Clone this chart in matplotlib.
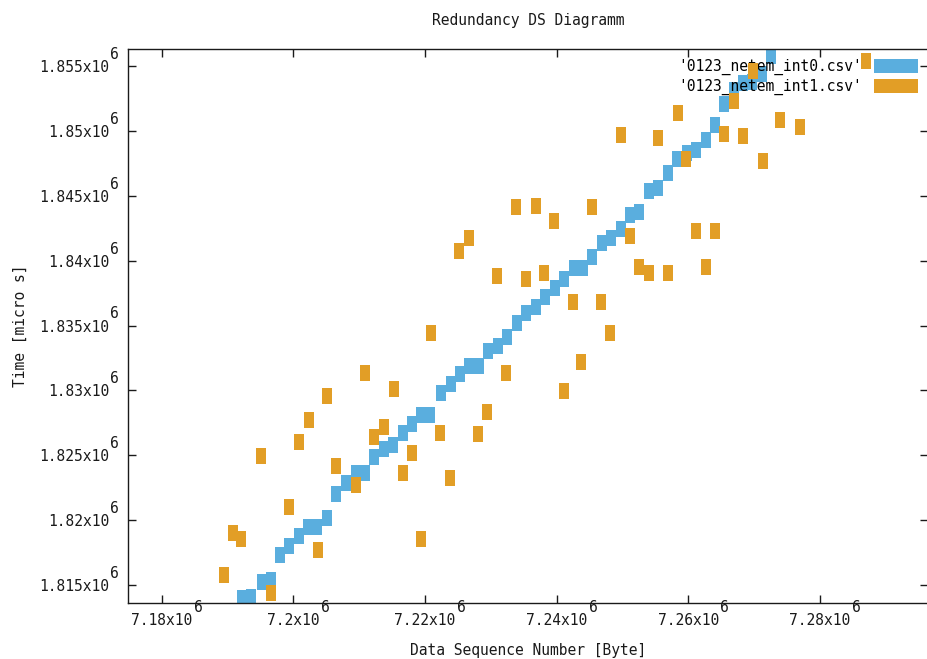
import matplotlib
matplotlib.use("Agg")
import matplotlib.pyplot as plt
from matplotlib.patches import Patch
from matplotlib.ticker import FixedLocator, FixedFormatter

plt.rcParams['font.family'] = ['DejaVu Sans Mono']

# ---- data -------------------------------------------------------------
seq_int0 = [7192152, 7193519, 7195190, 7196557, 7197970, 7199337, 7200856, 7202269,
            7203545, 7205064, 7206476, 7207950, 7209469, 7210881, 7212294, 7213767,
            7215180, 7216608, 7218066, 7219464, 7220831, 7222426, 7223899, 7225312,
            7226679, 7228152, 7229611, 7231038, 7232497, 7233925, 7235383, 7236811,
            7238223, 7239697, 7241109, 7242583, 7243995, 7245408, 7246836, 7248249,
            7249722, 7251135, 7252547, 7254066, 7255434, 7256861, 7258320, 7259748,
            7261160, 7262634, 7264046, 7265459, 7266887, 7268315, 7269743, 7271186,
            7272613]
time_int0 = [1813976, 1814099, 1815193, 1815363, 1817274, 1817968, 1818754, 1819447,
             1819447, 1820149, 1821991, 1822839, 1823609, 1823609, 1824889, 1825459,
             1825790, 1826738, 1827409, 1828103, 1828103, 1829821, 1830492, 1831239,
             1831879, 1831879, 1833058, 1833420, 1834137, 1835170, 1835925, 1836403,
             1837220, 1837867, 1838561, 1839409, 1839409, 1840303, 1841382, 1841721,
             1842399, 1843517, 1843771, 1845389, 1845613, 1846777, 1847809, 1848272,
             1848503, 1849297, 1850453, 1852071, 1853112, 1853690, 1853767, 1854345,
             1855771]

seq_int1 = [7189418, 7190800, 7192122, 7195084, 7196572, 7199367, 7200856, 7202329,
            7203712, 7205064, 7206476, 7209469, 7210927, 7212294, 7213767, 7215241,
            7216608, 7218066, 7219388, 7220907, 7222350, 7223793, 7225236, 7226679,
            7228046, 7229459, 7231008, 7232375, 7233818, 7235307, 7236811, 7238117,
            7239636, 7241109, 7242431, 7243692, 7245408, 7246775, 7248173, 7249722,
            7251089, 7252547, 7254021, 7255342, 7256861, 7258380, 7259687, 7261160,
            7262649, 7264046, 7265459, 7266932, 7268254, 7269818, 7271292, 7273996,
            7276958, 7286983]
time_int1 = [1815787, 1818985, 1818507, 1824966, 1814384, 1820974, 1825998, 1827717,
             1817698, 1829590, 1824172, 1822708, 1831340, 1826384, 1827201, 1830083,
             1823609, 1825212, 1818523, 1834422, 1826738, 1823270, 1840765, 1841721,
             1826615, 1828357, 1838815, 1831363, 1844156, 1838584, 1844233, 1839070,
             1843077, 1829952, 1836842, 1832149, 1844156, 1836842, 1834422, 1849682,
             1841921, 1839532, 1839047, 1849428, 1839070, 1851401, 1847832, 1842283,
             1839532, 1842283, 1849782, 1852303, 1849567, 1854615, 1847701, 1850838,
             1850322, 1855408]

series_labels = ["'0123_netem_int0.csv'", "'0123_netem_int1.csv'"]
series_colors = ['#5aaede', '#e29e26']

xtick_values = [7180000, 7200000, 7220000, 7240000, 7260000, 7280000]
xtick_labels = ['7.18x10', '7.2x10', '7.22x10', '7.24x10', '7.26x10', '7.28x10']
ytick_values = [1815000, 1820000, 1825000, 1830000, 1835000, 1840000, 1845000,
                1850000, 1855000]
ytick_labels = ['1.815x10', '1.82x10', '1.825x10', '1.83x10', '1.835x10',
                '1.84x10', '1.845x10', '1.85x10', '1.855x10']
exponent = '6'

# ---- figure -----------------------------------------------------------
FS = 10.5
TXT = '#1a1a1a'
fig = plt.figure(figsize=(9.28, 6.59), dpi=100)
ax = fig.add_axes([128 / 928, 1 - 603 / 659, 800 / 928, (603 - 49) / 659])

# tall rectangular point marker
rect = [(-0.3, -0.5), (0.3, -0.5), (0.3, 0.5), (-0.3, 0.5), (-0.3, -0.5)]
ax.scatter(seq_int0, time_int0, marker=rect, s=118, color=series_colors[0],
           linewidths=0, zorder=2, clip_on=True)
ax.scatter(seq_int1, time_int1, marker=rect, s=118, color=series_colors[1],
           linewidths=0, zorder=4, clip_on=True)

ax.set_xlim(7174881, 7296405)
ax.set_ylim(1813613, 1856310)

ax.xaxis.set_major_locator(FixedLocator(xtick_values))
ax.xaxis.set_major_formatter(FixedFormatter(xtick_labels))
ax.yaxis.set_major_locator(FixedLocator(ytick_values))
ax.yaxis.set_major_formatter(FixedFormatter(ytick_labels))
ax.tick_params(axis='both', which='major', direction='in', length=6, width=1,
               labelsize=FS, colors=TXT, top=True, right=True)
ax.tick_params(axis='x', pad=7)
ax.tick_params(axis='y', pad=13.5)
for sp in ax.spines.values():
    sp.set_linewidth(1.0)
    sp.set_color(TXT)

# exponents of the tick labels
cw = 0.602 * FS  # character width of the monospace face in points
for v, lab in zip(ytick_values, ytick_labels):
    ax.annotate(exponent, xy=(0, v), xycoords=ax.get_yaxis_transform(),
                xytext=(-13.2, 8.3), textcoords='offset points',
                ha='left', va='center', fontsize=FS, color=TXT,
                annotation_clip=False)
for v, lab in zip(xtick_values, xtick_labels):
    ax.annotate(exponent, xy=(v, 0), xycoords=ax.get_xaxis_transform(),
                xytext=(len(lab) * cw / 2 + 1.0, -3.0), textcoords='offset points',
                ha='left', va='center', fontsize=FS, color=TXT,
                annotation_clip=False)

ax.set_title('Redundancy DS Diagramm', fontsize=FS, pad=17, color=TXT)
ax.set_xlabel('Data Sequence Number [Byte]', fontsize=FS, labelpad=11, color=TXT)
ax.set_ylabel('Time [micro s]', fontsize=FS, labelpad=8, color=TXT)

handles = [Patch(facecolor=c, edgecolor='none') for c in series_colors]
leg = ax.legend(handles, series_labels, loc='upper right', frameon=False,
                markerfirst=False, fontsize=FS, handlelength=3.0,
                handleheight=1.1, handletextpad=0.8, labelspacing=0.25,
                borderaxespad=0.3, borderpad=0.4)
leg.set_zorder(3)

fig.savefig('out.png', dpi=100)
